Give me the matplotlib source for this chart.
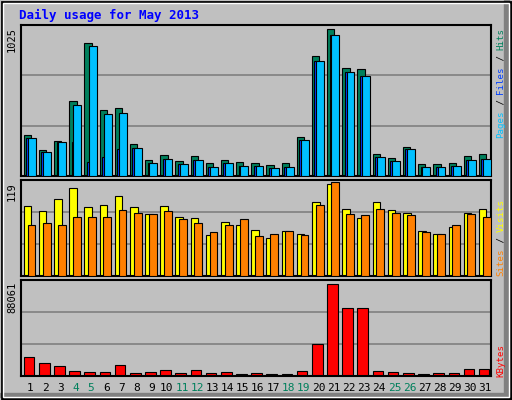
import matplotlib.pyplot as plt
from matplotlib.patches import Rectangle
import numpy as np

BG = '#C0C0C0'
MONO = 'DejaVu Sans Mono'

days = list(range(1, 32))
weekend = [4, 5, 11, 12, 18, 19, 25, 26]

hits = [281, 179, 240, 511, 904, 450, 464, 220, 112, 146, 105, 139, 91, 112, 98, 91,
        78, 91, 267, 816, 999, 735, 728, 152, 125, 200, 85, 85, 91, 139, 152]
files = [261, 166, 234, 484, 883, 423, 430, 193, 91, 118, 85, 112, 64, 91, 71, 71,
         58, 64, 247, 782, 958, 707, 680, 132, 105, 186, 64, 64, 71, 112, 118]
pages = [261, 166, 234, 234, 98, 132, 186, 193, 91, 118, 85, 112, 64, 91, 71, 71,
         58, 64, 247, 782, 958, 707, 680, 132, 105, 186, 64, 64, 71, 112, 118]
visits = [87, 81, 96, 109, 86, 89, 99, 86, 77, 87, 73, 72, 51, 67, 64, 57,
          47, 56, 53, 92, 114, 84, 72, 92, 82, 79, 56, 52, 61, 78, 83]
sites = [64, 66, 63, 74, 74, 73, 82, 78, 77, 81, 71, 66, 55, 64, 71, 50,
         53, 56, 51, 89, 117, 77, 76, 84, 79, 76, 55, 52, 63, 77, 74]
kbytes = [17260, 11445, 8676, 4061, 3138, 3138, 9599, 2215, 3138, 4984, 2215, 4984,
          2215, 3138, 1292, 2215, 1292, 1292, 4061, 28982, 84362, 62210, 62210, 4061,
          3138, 2215, 1292, 2215, 2215, 5907, 5907]
max_hits, max_visits, max_kb = 1025, 119, 88061

W, H = 512, 400
fig = plt.figure(figsize=(W / 100, H / 100), dpi=100, facecolor=BG)

def px_axes(x0, y0, x1, y1):
    return fig.add_axes([x0 / W, 1 - y1 / H, (x1 - x0) / W, (y1 - y0) / H])

x = np.array(days)

def setup(ax, top):
    ax.set_facecolor(BG)
    ax.set_xlim(0.5, 31.5)
    ax.set_ylim(0, top)
    for g in (top / 3, 2 * top / 3):
        ax.axhline(g, color='#808080', lw=1.2, zorder=0)
    ax.set_xticks([])
    ax.set_yticks([])
    for s in ax.spines.values():
        s.set_linewidth(1.5)
        s.set_color('black')

ax1 = px_axes(20.7, 25, 491, 176.5)
setup(ax1, max_hits)
ax1.bar(x - 0.3, hits, width=0.48, align='edge', color='#00805C', edgecolor='black', lw=0.8, zorder=2)
ax1.bar(x - 0.14, pages, width=0.2, align='edge', color='#0040FF', edgecolor='black', lw=0.8, zorder=3)
ax1.bar(x - 0.02, files, width=0.52, align='edge', color='#00C0FF', edgecolor='black', lw=0.8, zorder=4)

ax2 = px_axes(20.7, 180.3, 491, 276.3)
setup(ax2, max_visits)
ax2.bar(x - 0.3, visits, width=0.5, align='edge', color='#FFFF00', edgecolor='black', lw=0.8, zorder=2)
ax2.bar(x - 0.05, sites, width=0.52, align='edge', color='#FF8000', edgecolor='black', lw=0.8, zorder=3)

ax3 = px_axes(20.7, 280.3, 491, 375.7)
setup(ax3, max_kb)
ax3.bar(x + 0.05, kbytes, width=0.7, color='#FF0000', edgecolor='black', lw=0.8, zorder=2)

# day labels
for d in days:
    xp = 20.7 + (d - 0.5) / 31 * 470.3 + 2
    fig.text(xp / W, 1 - 388 / H, str(d), ha='center', va='center', family=MONO,
             fontsize=8, color='#00805C' if d in weekend else 'black')

# title and y max labels
fig.text(19 / W, 1 - 15 / H, 'Daily usage for May 2013', family=MONO, fontsize=9,
         fontweight='bold', color='#0000FF', va='center')
for lab, ytop in (('1025', 27), ('119', 182), ('88061', 282)):
    fig.text(12 / W, 1 - ytop / H, lab, rotation=90, ha='center', va='top',
             family=MONO, fontsize=7.5, color='black')

# right side legends, bottom to top
def side_label(parts, ybottom):
    y = ybottom
    for txt, col in parts:
        fig.text(501 / W, 1 - y / H, txt, rotation=90, ha='center', va='bottom',
                 family=MONO, fontsize=6.6, color=col)
        y -= len(txt) * 5.5

side_label([('Pages', '#00C0FF'), (' / ', 'black'), ('Files', '#0040FF'),
            (' / ', 'black'), ('Hits', '#00805C')], 138)
side_label([('Sites', '#FF8000'), (' / ', 'black'), ('Visits', '#FFFF00')], 276)
side_label([('KBytes', '#FF0000')], 377)

# border with bevel
fig.add_artist(Rectangle((504 / W, 0), 5 / W, 1, transform=fig.transFigure,
                         color='#808080', zorder=0))
fig.add_artist(Rectangle((0, 3 / H), 1, 4 / H, transform=fig.transFigure,
                         color='#808080', zorder=0))
fig.add_artist(Rectangle((1.5 / W, 1.5 / H), 1 - 3 / W, 1 - 3 / H, transform=fig.transFigure,
                         fill=False, edgecolor='black', lw=2))
fig.add_artist(Rectangle((3 / W, 3 / H), 1 - 6 / W, 1 - 6 / H, transform=fig.transFigure,
                         fill=False, edgecolor='white', lw=1))

fig.savefig('out.png', dpi=100, facecolor=BG)
